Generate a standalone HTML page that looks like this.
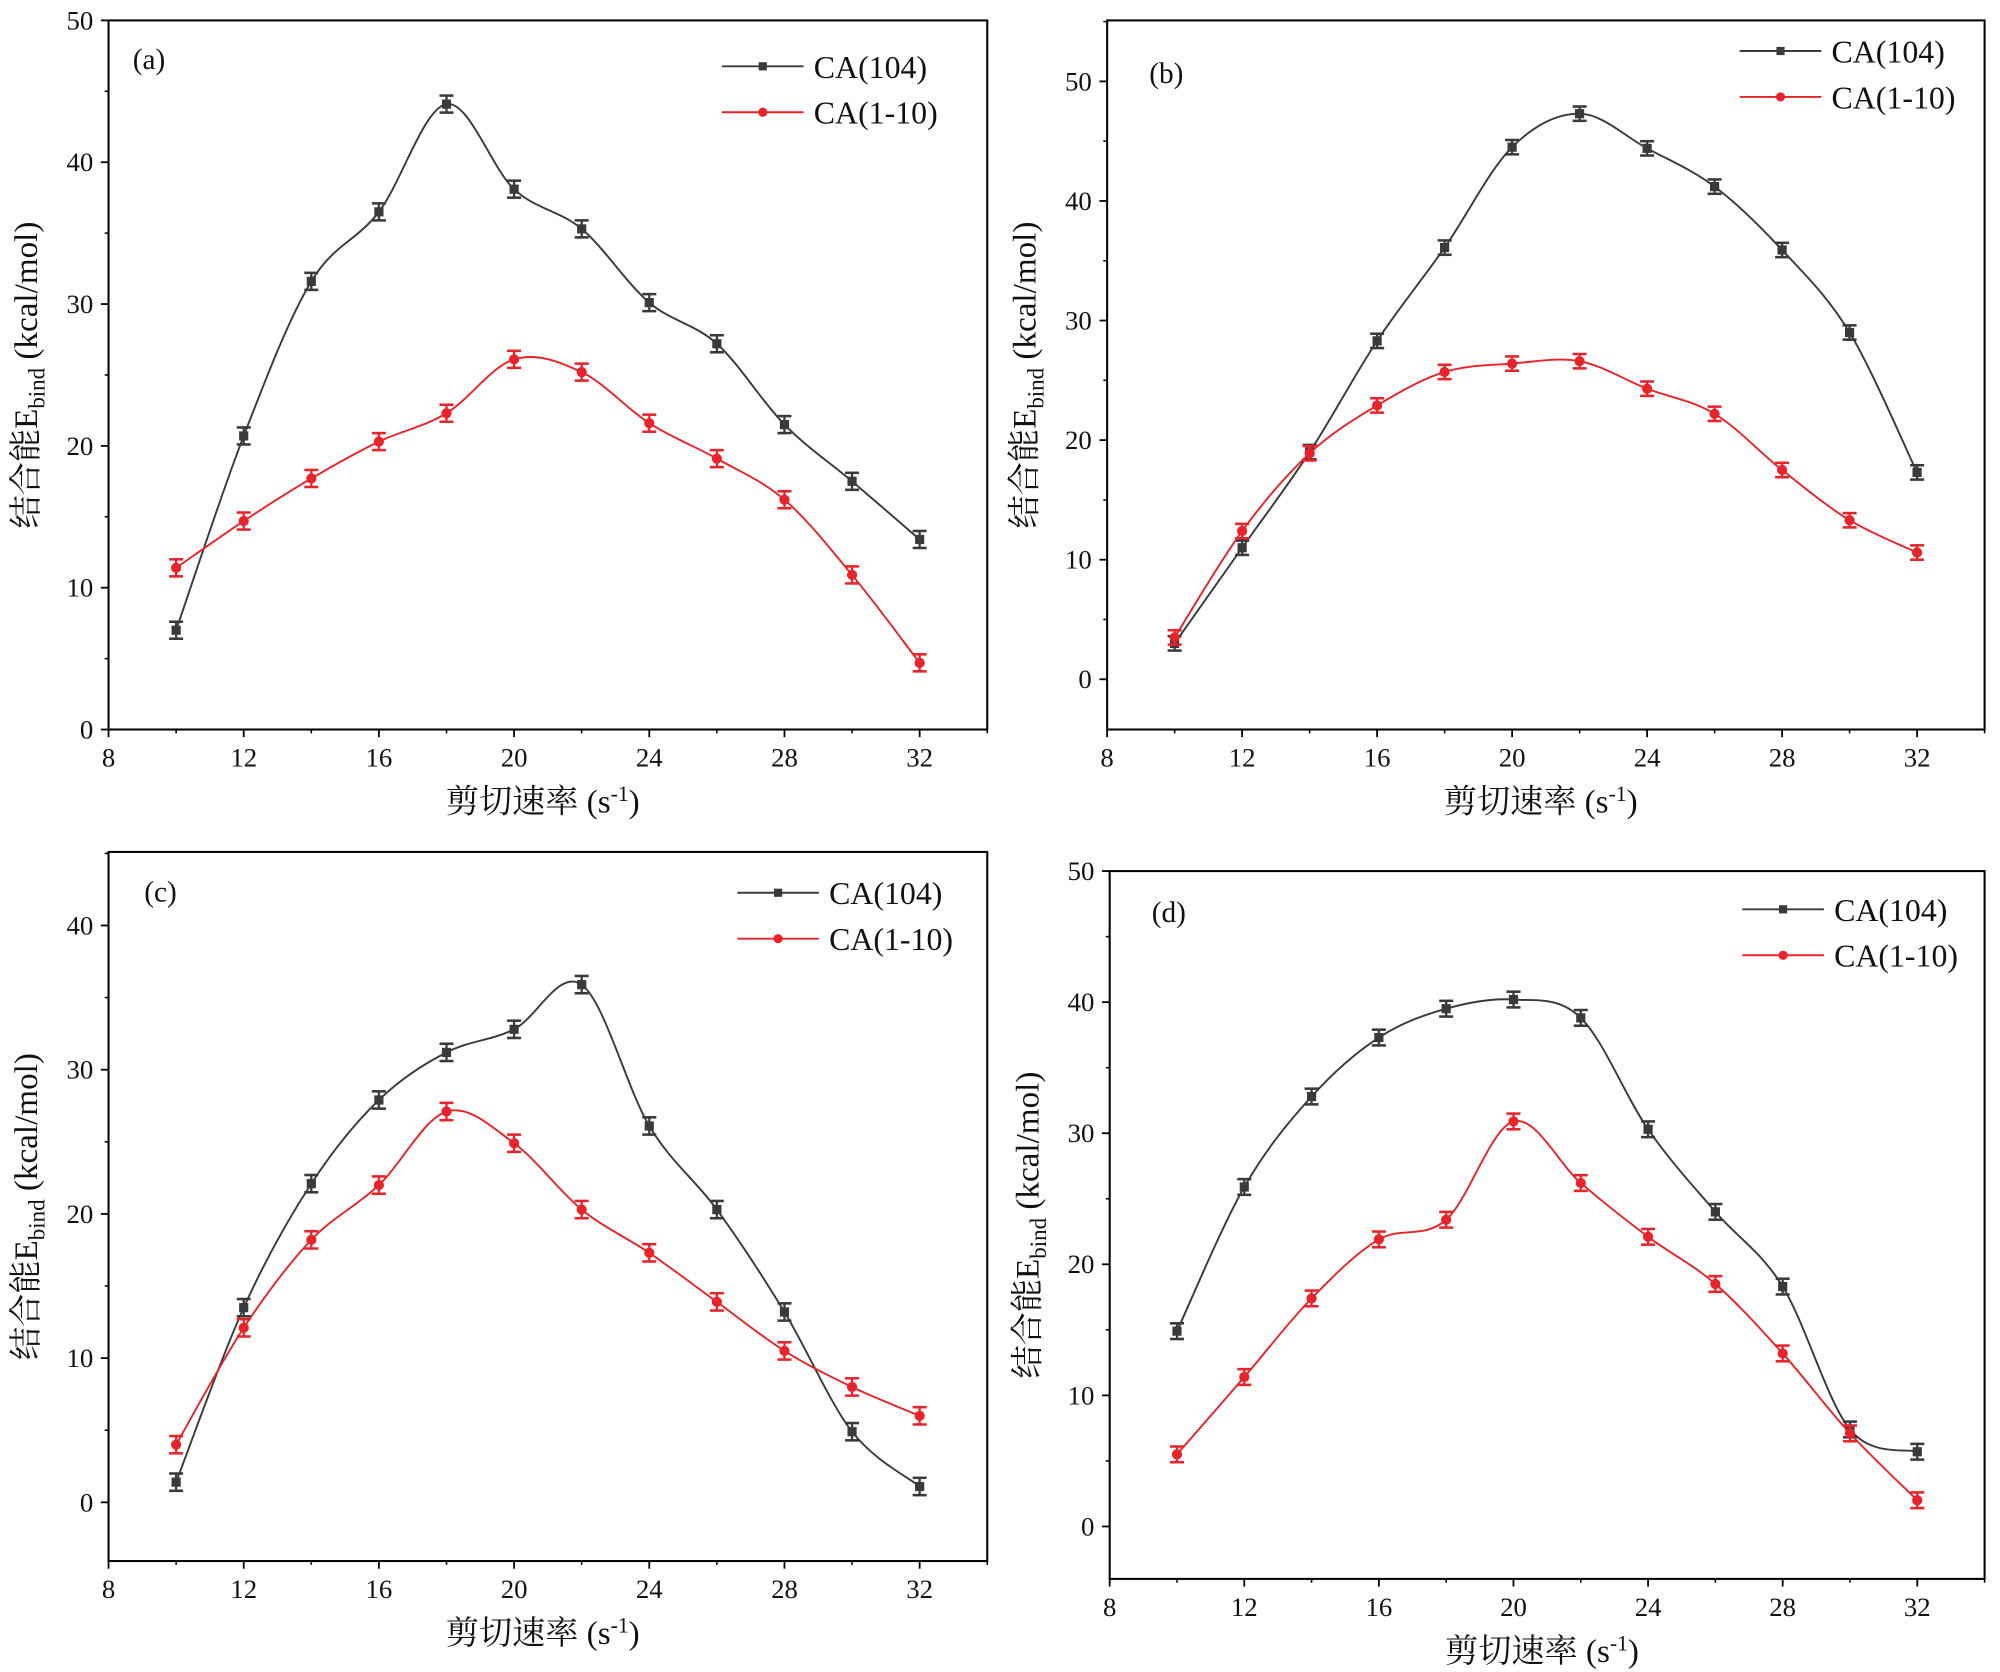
<!DOCTYPE html>
<html><head><meta charset="utf-8">
<style>
html,body{margin:0;padding:0;background:#fff;}
svg{display:block;}
text{font-family:"Liberation Serif","Noto Serif CJK SC","Noto Sans CJK SC",serif;fill:#111;}
</style></head>
<body>
<svg id="chart" width="2000" height="1672" viewBox="0 0 1568 1311" xmlns="http://www.w3.org/2000/svg"></svg>
<script>
const xCats = [10,12,14,16,18,20,22,24,26,28,30,32];
const xTicks = [8,12,16,20,24,28,32];
const aBlack = [7,20.7,31.6,36.5,44.1,38.1,35.3,30.1,27.2,21.5,17.5,13.4];
const aRed = [11.4,14.7,17.7,20.3,22.3,26.1,25.2,21.6,19.1,16.2,10.9,4.7];
const bBlack = [3,11,19,28.3,36.1,44.5,47.3,44.4,41.2,35.9,29.0,17.3];
const bRed = [3.5,12.4,18.9,22.9,25.7,26.4,26.6,24.3,22.2,17.5,13.3,10.6];
const cBlack = [1.4,13.5,22.1,27.9,31.2,32.8,35.9,26.1,20.3,13.2,4.9,1.1];
const cRed = [4.0,12.1,18.2,22.0,27.1,24.9,20.3,17.3,13.9,10.5,8.0,6.0];
const dBlack = [14.9,25.9,32.8,37.3,39.5,40.2,38.8,30.3,24.0,18.3,7.4,5.7];
const dRed = [5.5,11.4,17.4,21.9,23.4,30.9,26.2,22.1,18.5,13.2,7.1,2.0];
const errBars = 0.6;
const seriesNames = ["CA(104)","CA(1-10)"];
const yTicksA = [0,10,20,30,40,50];
const yTicksB = [0,10,20,30,40,50];
const yTicksC = [0,10,20,30,40];
const yTicksD = [0,10,20,30,40,50];

const NS="http://www.w3.org/2000/svg";
const svg=document.getElementById('chart');
function mk(tag,attrs,parent){const e=document.createElementNS(NS,tag);for(const k in attrs)e.setAttribute(k,attrs[k]);(parent||svg).appendChild(e);return e;}

const panels=[
 {id:'a',x0:85,x1:774,y0:16,y1:572,ymin:0,ymax:50,yt:yTicksA,black:aBlack,red:aRed,lab:[104,47],leg:[566,52]},
 {id:'b',x0:868,x1:1556,y0:16,y1:572,ymin:-4.2,ymax:55.1,yt:yTicksB,black:bBlack,red:bRed,lab:[901,58],leg:[1364,40]},
 {id:'c',x0:85,x1:774,y0:668,y1:1224,ymin:-4.07,ymax:45.1,yt:yTicksC,black:cBlack,red:cRed,lab:[113,700],leg:[578,700]},
 {id:'d',x0:870,x1:1556,y0:683,y1:1238,ymin:-4,ymax:50,yt:yTicksD,black:dBlack,red:dRed,lab:[903,716],leg:[1366,713]}
];

function spline(pts){
 let d=`M${pts[0][0]},${pts[0][1]}`;
 for(let i=0;i<pts.length-1;i++){
  const p0=pts[Math.max(0,i-1)],p1=pts[i],p2=pts[i+1],p3=pts[Math.min(pts.length-1,i+2)];
  const c1=[p1[0]+(p2[0]-p0[0])/6,p1[1]+(p2[1]-p0[1])/6];
  const c2=[p2[0]-(p3[0]-p1[0])/6,p2[1]-(p3[1]-p1[1])/6];
  d+=` C${c1[0]},${c1[1]} ${c2[0]},${c2[1]} ${p2[0]},${p2[1]}`;
 }
 return d;
}

panels.forEach(p=>{
 const g=mk('g',{});
 
 
 const X=v=>p.x0+(v-8)/(34-8)*(p.x1-p.x0);
 const Y=v=>p.y1-(v-p.ymin)/(p.ymax-p.ymin)*(p.y1-p.y0);
 const frame=mk('rect',{x:p.x0,y:p.y0,width:p.x1-p.x0,height:p.y1-p.y0,fill:'none',stroke:'#000','stroke-width':1.6},g);
 
 
 xTicks.forEach(t=>{
  mk('line',{x1:X(t),x2:X(t),y1:p.y1,y2:p.y1+6,stroke:'#000','stroke-width':1.4},g);
  mk('line',{x1:X(t+2),x2:X(t+2),y1:p.y1,y2:p.y1+3,stroke:'#000','stroke-width':1.2},g);
  const tl=mk('text',{x:X(t),y:p.y1+29,'text-anchor':'middle','font-size':21},g);tl.textContent=t;
  
  
 });
 p.yt.forEach(t=>{
  mk('line',{x1:p.x0-6,x2:p.x0,y1:Y(t),y2:Y(t),stroke:'#000','stroke-width':1.4},g);
  if(Y(t+5)>p.y0) mk('line',{x1:p.x0-3,x2:p.x0,y1:Y(t+5),y2:Y(t+5),stroke:'#000','stroke-width':1.2},g);
  const tl=mk('text',{x:p.x0-12,y:Y(t)+7,'text-anchor':'end','font-size':21},g);tl.textContent=t;
  
  
 });
 if(Y(-5)<p.y1) mk('line',{x1:p.x0-3,x2:p.x0,y1:Y(-5),y2:Y(-5),stroke:'#000'},g);
 const xt=mk('text',{x:(p.x0+p.x1)/2-4,y:p.y1+65,'text-anchor':'middle','font-size':26},g);
 xt.innerHTML='剪切速率 (s<tspan dy="-9" font-size="17">-1</tspan><tspan dy="9">)</tspan>';
 
 
 const cy=(p.y0+p.y1)/2, cx=p.x0-56;
 const yt=mk('text',{x:cx,y:cy,'text-anchor':'middle','font-size':26,transform:`rotate(-90 ${cx} ${cy})`},g);
 yt.innerHTML='结合能E<tspan dy="6" font-size="18">bind</tspan><tspan dy="-6"> (kcal/mol)</tspan>';
 
 
 const pl=mk('text',{x:p.lab[0],y:p.lab[1]+7,'font-size':23},g);pl.textContent='('+p.id+')';
 
 
 [[p.black,'#3a3a3a','square'],[p.red,'#e8242a','circle']].forEach((s,si)=>{
  const pts=s[0].map((v,i)=>[X(xCats[i]),Y(v)]);
  const ln=mk('path',{d:spline(pts),fill:'none',stroke:s[1],'stroke-width':1.5},g);
  
  
  s[0].forEach((v,i)=>{
   const x=X(xCats[i]);
   const e1=Y(v+errBars),e2=Y(v-errBars);
   mk('line',{x1:x,x2:x,y1:e1,y2:e2,stroke:s[1],'stroke-width':1.8},g);
   mk('line',{x1:x-5.5,x2:x+5.5,y1:e1,y2:e1,stroke:s[1],'stroke-width':2},g);
   mk('line',{x1:x-5.5,x2:x+5.5,y1:e2,y2:e2,stroke:s[1],'stroke-width':2},g);
   let m;
   if(s[2]==='square') m=mk('rect',{x:x-3.6,y:Y(v)-3.6,width:7.2,height:7.2,fill:s[1]},g);
   else m=mk('circle',{cx:x,cy:Y(v),r:4,fill:s[1]},g);
   
   
  });
  const ly=p.leg[1]+si*36, lx=p.leg[0];
  const lg=mk('g',{},g);
  
  
  mk('line',{x1:lx,x2:lx+64,y1:ly,y2:ly,stroke:s[1],'stroke-width':1.5},lg);
  if(s[2]==='square') mk('rect',{x:lx+28.8,y:ly-3.2,width:6.4,height:6.4,fill:s[1]},lg);
  else mk('circle',{cx:lx+32,cy:ly,r:3.6,fill:s[1]},lg);
  const lt=mk('text',{x:lx+72,y:ly+9,'font-size':25},lg);lt.textContent=seriesNames[si];
 });
});
</script>
</body></html>
